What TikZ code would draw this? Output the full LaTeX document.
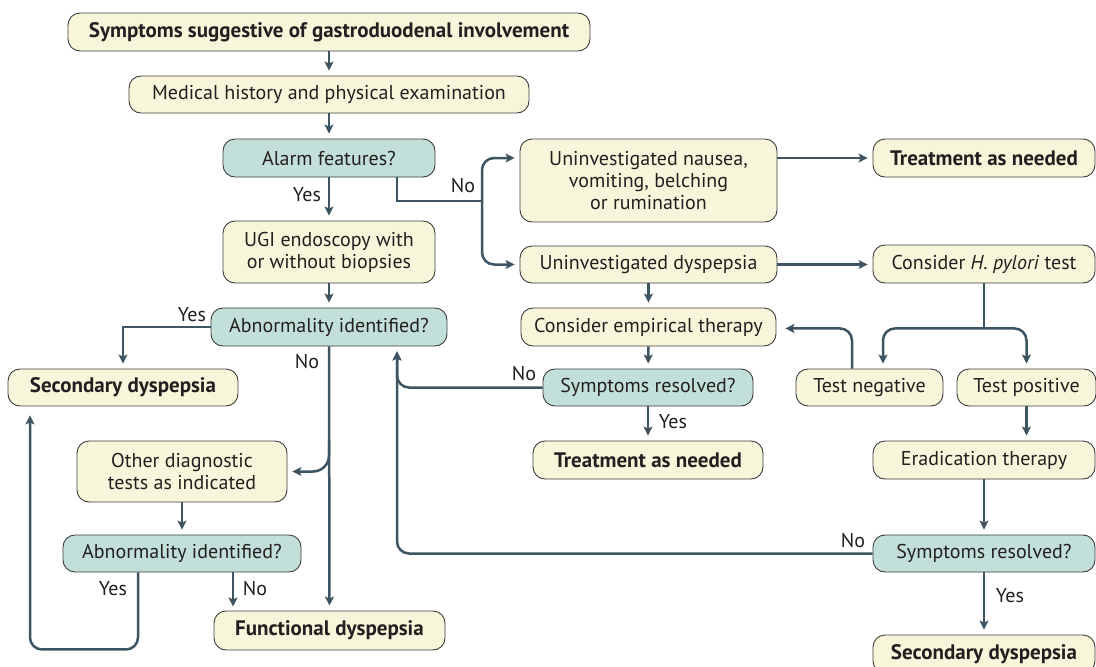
\documentclass[tikz,border=0pt]{standalone}
\usepackage{fontspec}
\setmainfont{PT Sans}
\usepackage{tikz}
\usetikzlibrary{arrows.meta}

\definecolor{cream}{HTML}{F8F6DA}
\definecolor{sea}{HTML}{C2E0D9}
\definecolor{rim}{HTML}{3C3C3C}
\definecolor{linec}{HTML}{3F5462}
\definecolor{ink}{HTML}{231F20}

\tikzset{
  box/.style={draw=rim, line width=0.9pt, fill=cream, rounded corners=12pt, inner sep=0pt,
    minimum height=37, align=center, text=ink, font=\fontsize{20}{22}\selectfont},
  ask/.style={box, fill=sea},
  goal/.style={box, font=\fontsize{21}{22}\selectfont\bfseries},
  link/.style={draw=linec, line width=2.5pt},
  flow/.style={link, -{Stealth[length=9pt,width=9pt,inset=2pt]}, shorten >=5pt},
  lbl/.style={text=ink, font=\fontsize{20}{22}\selectfont, inner sep=0pt}
}

\begin{document}
\begin{tikzpicture}[x=1pt, y=-1pt]
  \useasboundingbox (0,0) rectangle (1096,667);
  \clip (0,0) rectangle (1096,667);

  % main column
  \node[goal, minimum width=522, minimum height=38] (start) at (329,32) {Symptoms suggestive of gastroduodenal involvement};
  \node[box, minimum width=400] (history) at (329,94.5) {Medical history and physical examination};
  \node[ask, minimum width=212, minimum height=38] (alarm) at (329,158) {Alarm features?};
  \node[box, minimum width=212, minimum height=62] (ugi) at (329,252) {UGI endoscopy with\\or without biopsies};
  \node[ask, minimum width=236, minimum height=38] (abnA) at (329,327) {Abnormality identified?};
  \node[goal, minimum width=230] (secA) at (123,387.5) {Secondary dyspepsia};
  \node[box, minimum width=210, minimum height=61] (other) at (182,471.5) {Other diagnostic\\tests as indicated};
  \node[ask, minimum width=238] (abnB) at (182,553.5) {Abnormality identified?};
  \node[goal, minimum width=231, minimum height=39] (func) at (329.5,630.5) {Functional dyspepsia};

  % uninvestigated branch
  \node[box, minimum width=257, minimum height=83] (nausea) at (648.5,180.5) {Uninvestigated nausea,\\vomiting, belching\\or rumination};
  \node[goal, minimum width=222, minimum height=38] (treatA) at (984,158) {Treatment as needed};
  \node[box, minimum width=257] (undys) at (648.5,264.5) {Uninvestigated dyspepsia};
  \node[box, minimum width=222, minimum height=38] (hptest) at (984,264) {Consider \textit{H. pylori} test};
  \node[box, minimum width=255, minimum height=38] (empiric) at (648.5,327) {Consider empirical therapy};
  \node[ask, minimum width=210] (resA) at (648,387.5) {Symptoms resolved?};
  \node[goal, minimum width=230, minimum height=38] (treatB) at (648,460) {Treatment as needed};
  \node[box, minimum width=147] (neg) at (869.5,387.5) {Test negative};
  \node[box, minimum width=139] (pos) at (1026.5,387.5) {Test positive};
  \node[box, minimum width=222, minimum height=38] (erad) at (984,460) {Eradication therapy};
  \node[ask, minimum width=222] (resB) at (984,553.5) {Symptoms resolved?};
  \node[goal, minimum width=222, minimum height=38] (secB) at (984,654) {Secondary dyspepsia};

  \draw[flow] (start) -- (history);
  \draw[flow] (history) -- (alarm);
  \draw[flow] (alarm) -- (ugi);
  \node[lbl] (yesA) at (307,195) {Yes};
  \draw[flow] (ugi) -- (abnA);

  % no alarm features
  \coordinate (fork) at (482,201);
  \draw[link] ([xshift=68]alarm.south) |- (fork);
  \draw[flow, rounded corners=12pt] (fork) |- (nausea.west |- alarm.east);
  \draw[flow, rounded corners=12pt] (fork) |- (undys.west);
  \node[lbl] (noA) at (463,186) {No};
  \draw[flow] (nausea.east |- treatA.west) -- (treatA.west);
  \draw[flow] (undys.east) -- (undys.east -| hptest.west);
  \draw[flow] (undys) -- (empiric);

  % H. pylori test
  \coordinate (split) at ([yshift=-45]hptest.south);
  \draw[link] (hptest) -- (split);
  \draw[flow, rounded corners=12pt] (split) -| ([xshift=13.5]neg.north);
  \draw[flow, rounded corners=12pt] (split) -| (pos.north);
  \draw[flow, rounded corners=12pt, shorten >=9pt] ([xshift=-17.5]neg.north) |- (empiric.east |- split);
  \draw[flow] (pos) -- (pos |- erad.north);
  \draw[flow] (erad) -- (resB);
  \draw[flow] (resB) -- (secB);
  \node[lbl] (yesD) at (1010,596) {Yes};

  % back to abnormality identified
  \draw[flow] (empiric) -- (resA);
  \draw[flow] (resA) -- (treatB);
  \node[lbl] (yesC) at (673,422) {Yes};
  \draw[flow, rounded corners=12pt] (resA.west) -| ([xshift=68]abnA.south);
  \draw[flow, rounded corners=12pt] (resB.west) -| ([xshift=68]abnA.south);
  \node[lbl] (noC) at (524,374) {No};
  \node[lbl] (noD) at (853,541) {No};

  % left column
  \draw[flow] (abnA.west) -| (secA.north);
  \node[lbl] (yesB) at (192,315) {Yes};
  \draw[flow] (abnA) -- (func);
  \node[lbl] (noB) at (307,362) {No};
  \draw[flow, rounded corners=16pt] (abnA.south |- other.north) |- (other.east);
  \draw[flow] (other) -- (abnB);
  \draw[flow, rounded corners=12pt, shorten >=9pt] ([xshift=-44]abnB.south) -- ++(0,77) -| ([xshift=-93]secA.south);
  \draw[flow] ([xshift=51]abnB.south) -- ++(0,39);
  \node[lbl] (yesE) at (113,589) {Yes};
  \node[lbl] (noE) at (255,589) {No};
\end{tikzpicture}
\end{document}
